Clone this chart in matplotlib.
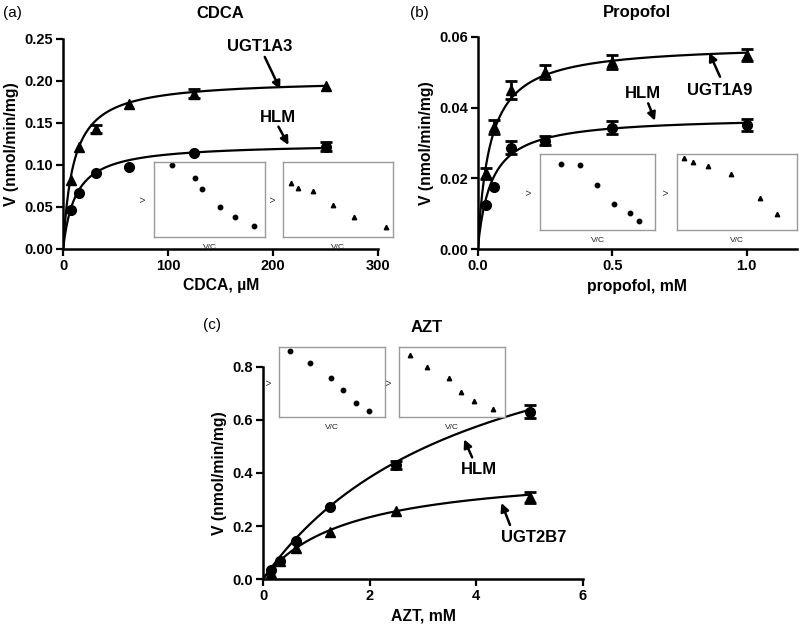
import numpy as np
import matplotlib
matplotlib.use("Agg")
import matplotlib.pyplot as plt

plt.rcParams["font.family"] = ["Liberation Sans", "DejaVu Sans"]

# (a) CDCA, uM
cdca_conc = [7.8, 15.6, 31.25, 62.5, 125, 250]
cdca_ugt1a3 = [0.0825, 0.122, 0.143, 0.173, 0.185, 0.194]
cdca_ugt1a3_err = [0.0, 0.0, 0.005, 0.0, 0.005, 0.0]
cdca_hlm = [0.047, 0.067, 0.090, 0.098, 0.114, 0.122]
cdca_hlm_err = [0.0, 0.0, 0.0, 0.0, 0.0, 0.005]
cdca_fit_ugt1a3 = (0.202, 10.0)   # Vmax, Km of the Michaelis-Menten fit
cdca_fit_hlm = (0.126, 12.0)

# (b) propofol, mM
prop_conc = [0.03125, 0.0625, 0.125, 0.25, 0.5, 1.0]
prop_ugt1a9 = [0.0214, 0.0346, 0.0450, 0.0501, 0.0529, 0.0548]
prop_ugt1a9_err = [0.0015, 0.002, 0.0025, 0.002, 0.002, 0.0016]
prop_hlm = [0.0125, 0.0177, 0.0287, 0.0307, 0.0343, 0.0351]
prop_hlm_err = [0.0, 0.0, 0.0018, 0.0012, 0.0018, 0.0018]
prop_fit_ugt1a9 = (0.058, 0.045)
prop_fit_hlm = (0.0375, 0.05)

# (c) AZT, mM
azt_conc = [0.156, 0.3125, 0.625, 1.25, 2.5, 5.0]
azt_hlm = [0.035, 0.069, 0.142, 0.273, 0.430, 0.631]
azt_hlm_err = [0.0, 0.0, 0.0, 0.0, 0.015, 0.025]
azt_ugt2b7 = [0.023, 0.068, 0.117, 0.179, 0.257, 0.308]
azt_ugt2b7_err = [0.0, 0.0, 0.0, 0.0, 0.0, 0.02]
azt_fit_hlm = (1.15, 4.0)
azt_fit_ugt2b7 = (0.42, 1.6)

inset_a_hlm_x = [0.163, 0.367, 0.434, 0.593, 0.732, 0.898]
inset_a_hlm_y = [0.955, 0.785, 0.637, 0.395, 0.265, 0.152]
inset_a_ugt_x = [0.075, 0.136, 0.274, 0.452, 0.648, 0.931]
inset_a_ugt_y = [0.726, 0.650, 0.614, 0.426, 0.269, 0.135]
inset_b_hlm_x = [0.180, 0.348, 0.499, 0.646, 0.780, 0.864]
inset_b_hlm_y = [0.872, 0.855, 0.586, 0.344, 0.229, 0.123]
inset_b_ugt_x = [0.059, 0.134, 0.263, 0.450, 0.690, 0.835]
inset_b_ugt_y = [0.943, 0.894, 0.837, 0.736, 0.423, 0.211]
inset_c_hlm_x = [0.101, 0.290, 0.486, 0.599, 0.729, 0.852]
inset_c_hlm_y = [0.943, 0.776, 0.557, 0.381, 0.200, 0.086]
inset_c_ugt_x = [0.104, 0.265, 0.476, 0.587, 0.703, 0.883]
inset_c_ugt_y = [0.881, 0.719, 0.562, 0.357, 0.233, 0.110]

TICK_FS = 10.5
LABEL_FS = 11.3
YLABEL = "V (nmol/min/mg)"
MARKER_SIZE = {"o": 7.0, "^": 6.5}


def mm(x, params):
    vmax, km = params
    return vmax * x / (km + x)


def style_axes(ax):
    for side in ("top", "right"):
        ax.spines[side].set_visible(False)
    for side in ("left", "bottom"):
        ax.spines[side].set_linewidth(1.8)
    ax.tick_params(width=1.6, length=5, labelsize=TICK_FS, pad=2)
    for lab in ax.get_xticklabels() + ax.get_yticklabels():
        lab.set_fontweight("bold")


def draw_series(ax, conc, vals, err, fit, marker):
    xs = np.linspace(0, conc[-1], 300)
    ax.plot(xs, mm(xs, fit), color="black", lw=1.6, zorder=2)
    # only the points whose SEM sticks out beyond the marker get a bar
    keep = [i for i, e in enumerate(err) if e > 0]
    if keep:
        ax.errorbar([conc[i] for i in keep], [vals[i] for i in keep],
                    yerr=[err[i] for i in keep], fmt="none", ecolor="black",
                    capsize=4, capthick=2.0, elinewidth=2.0, zorder=3,
                    clip_on=False)
    ax.plot(conc, vals, marker, color="black", ms=MARKER_SIZE[marker],
            zorder=4, clip_on=False)


def add_inset(fig, rect, x, y, marker):
    ins = fig.add_axes(rect)
    ins.plot(x, y, marker, color="black", ms=3.2)
    ins.set_xlim(0, 1)
    ins.set_ylim(0, 1)
    ins.set_xticks([])
    ins.set_yticks([])
    for sp in ins.spines.values():
        sp.set_color("#9a9a9a")
        sp.set_linewidth(1.0)
    ins.set_xlabel("V/C", fontsize=6, color="#222222", labelpad=5)
    ins.set_ylabel("V", fontsize=6, color="#222222", labelpad=4)
    return ins


def annotate(ax, text, xy, xytext, txt_xy):
    ax.annotate("", xy=xy, xytext=xytext,
                arrowprops=dict(arrowstyle="-|>", color="black", lw=1.8,
                                mutation_scale=12, shrinkA=0, shrinkB=0))
    ax.text(txt_xy[0], txt_xy[1], text, fontsize=12, fontweight="bold",
            ha="center", va="center")


fig = plt.figure(figsize=(8.0, 6.31), dpi=100)

# ---- (a) CDCA ----
ax_a = fig.add_axes([0.0788, 0.6054, 0.394, 0.3328])
draw_series(ax_a, cdca_conc, cdca_ugt1a3, cdca_ugt1a3_err, cdca_fit_ugt1a3, "^")
draw_series(ax_a, cdca_conc, cdca_hlm, cdca_hlm_err, cdca_fit_hlm, "o")
ax_a.set_xlim(0, 300)
ax_a.set_ylim(0, 0.25)
ax_a.set_xticks([0, 100, 200, 300])
ax_a.set_yticks([0, 0.05, 0.10, 0.15, 0.20, 0.25])
ax_a.set_yticklabels(["0.00", "0.05", "0.10", "0.15", "0.20", "0.25"])
ax_a.set_xlabel("CDCA, µM", fontsize=LABEL_FS, fontweight="bold", labelpad=4)
ax_a.set_ylabel(YLABEL, fontsize=LABEL_FS, fontweight="bold", labelpad=4)
style_axes(ax_a)
annotate(ax_a, "UGT1A3", (206.7, 0.190), (192, 0.2286), (187.6, 0.2408))
annotate(ax_a, "HLM", (214.6, 0.1238), (205, 0.1456), (205, 0.1568))
fig.text(220 / 800, 1 - 13 / 631, "CDCA", fontsize=12, fontweight="bold",
         ha="center", va="center")
fig.text(3 / 800, 1 - 13 / 631, "(a)", fontsize=11, ha="left", va="center")
add_inset(fig, [0.1925, 0.6244, 0.139, 0.1189], inset_a_hlm_x, inset_a_hlm_y, "o")
add_inset(fig, [0.354, 0.6244, 0.1375, 0.1189], inset_a_ugt_x, inset_a_ugt_y, "^")

# ---- (b) Propofol ----
ax_b = fig.add_axes([0.5971, 0.6049, 0.3991, 0.3369])
draw_series(ax_b, prop_conc, prop_ugt1a9, prop_ugt1a9_err, prop_fit_ugt1a9, "^")
draw_series(ax_b, prop_conc, prop_hlm, prop_hlm_err, prop_fit_hlm, "o")
ax_b.set_xlim(0, 1.187)
ax_b.set_ylim(0, 0.06)
ax_b.set_xticks([0, 0.5, 1.0])
ax_b.set_xticklabels(["0.0", "0.5", "1.0"])
ax_b.set_yticks([0, 0.02, 0.04, 0.06])
ax_b.set_yticklabels(["0.00", "0.02", "0.04", "0.06"])
ax_b.set_xlabel("propofol, mM", fontsize=LABEL_FS, fontweight="bold", labelpad=4)
ax_b.set_ylabel(YLABEL, fontsize=LABEL_FS, fontweight="bold", labelpad=4)
style_axes(ax_b)
annotate(ax_b, "UGT1A9", (0.861, 0.0555), (0.901, 0.0487), (0.901, 0.0449))
annotate(ax_b, "HLM", (0.659, 0.0363), (0.634, 0.0412), (0.616, 0.0440))
fig.text(637 / 800, 1 - 13 / 631, "Propofol", fontsize=12, fontweight="bold",
         ha="center", va="center")
fig.text(410 / 800, 1 - 13 / 631, "(b)", fontsize=11, ha="left", va="center")
add_inset(fig, [0.675, 0.6355, 0.1438, 0.1204], inset_b_hlm_x, inset_b_hlm_y, "o")
add_inset(fig, [0.846, 0.6355, 0.15, 0.1204], inset_b_ugt_x, inset_b_ugt_y, "^")

# ---- (c) AZT ----
ax_c = fig.add_axes([0.3288, 0.0824, 0.4, 0.336])
draw_series(ax_c, azt_conc, azt_hlm, azt_hlm_err, azt_fit_hlm, "o")
draw_series(ax_c, azt_conc, azt_ugt2b7, azt_ugt2b7_err, azt_fit_ugt2b7, "^")
ax_c.set_xlim(0, 6)
ax_c.set_ylim(0, 0.8)
ax_c.set_xticks([0, 2, 4, 6])
ax_c.set_yticks([0, 0.2, 0.4, 0.6, 0.8])
ax_c.set_yticklabels(["0.0", "0.2", "0.4", "0.6", "0.8"])
ax_c.set_xlabel("AZT, mM", fontsize=LABEL_FS, fontweight="bold", labelpad=4)
ax_c.set_ylabel(YLABEL, fontsize=LABEL_FS, fontweight="bold", labelpad=4)
style_axes(ax_c)
annotate(ax_c, "HLM", (3.77, 0.527), (3.92, 0.459), (4.04, 0.414))
annotate(ax_c, "UGT2B7", (4.47, 0.287), (4.63, 0.204), (5.08, 0.157))
fig.text(427 / 800, 1 - 327 / 631, "AZT", fontsize=12, fontweight="bold",
         ha="center", va="center")
fig.text(203 / 800, 1 - 325 / 631, "(c)", fontsize=11, ha="left", va="center")
add_inset(fig, [0.3488, 0.3391, 0.1325, 0.1109], inset_c_hlm_x, inset_c_hlm_y, "o")
add_inset(fig, [0.4988, 0.3391, 0.1325, 0.1109], inset_c_ugt_x, inset_c_ugt_y, "^")

fig.savefig("out.png", dpi=100)
